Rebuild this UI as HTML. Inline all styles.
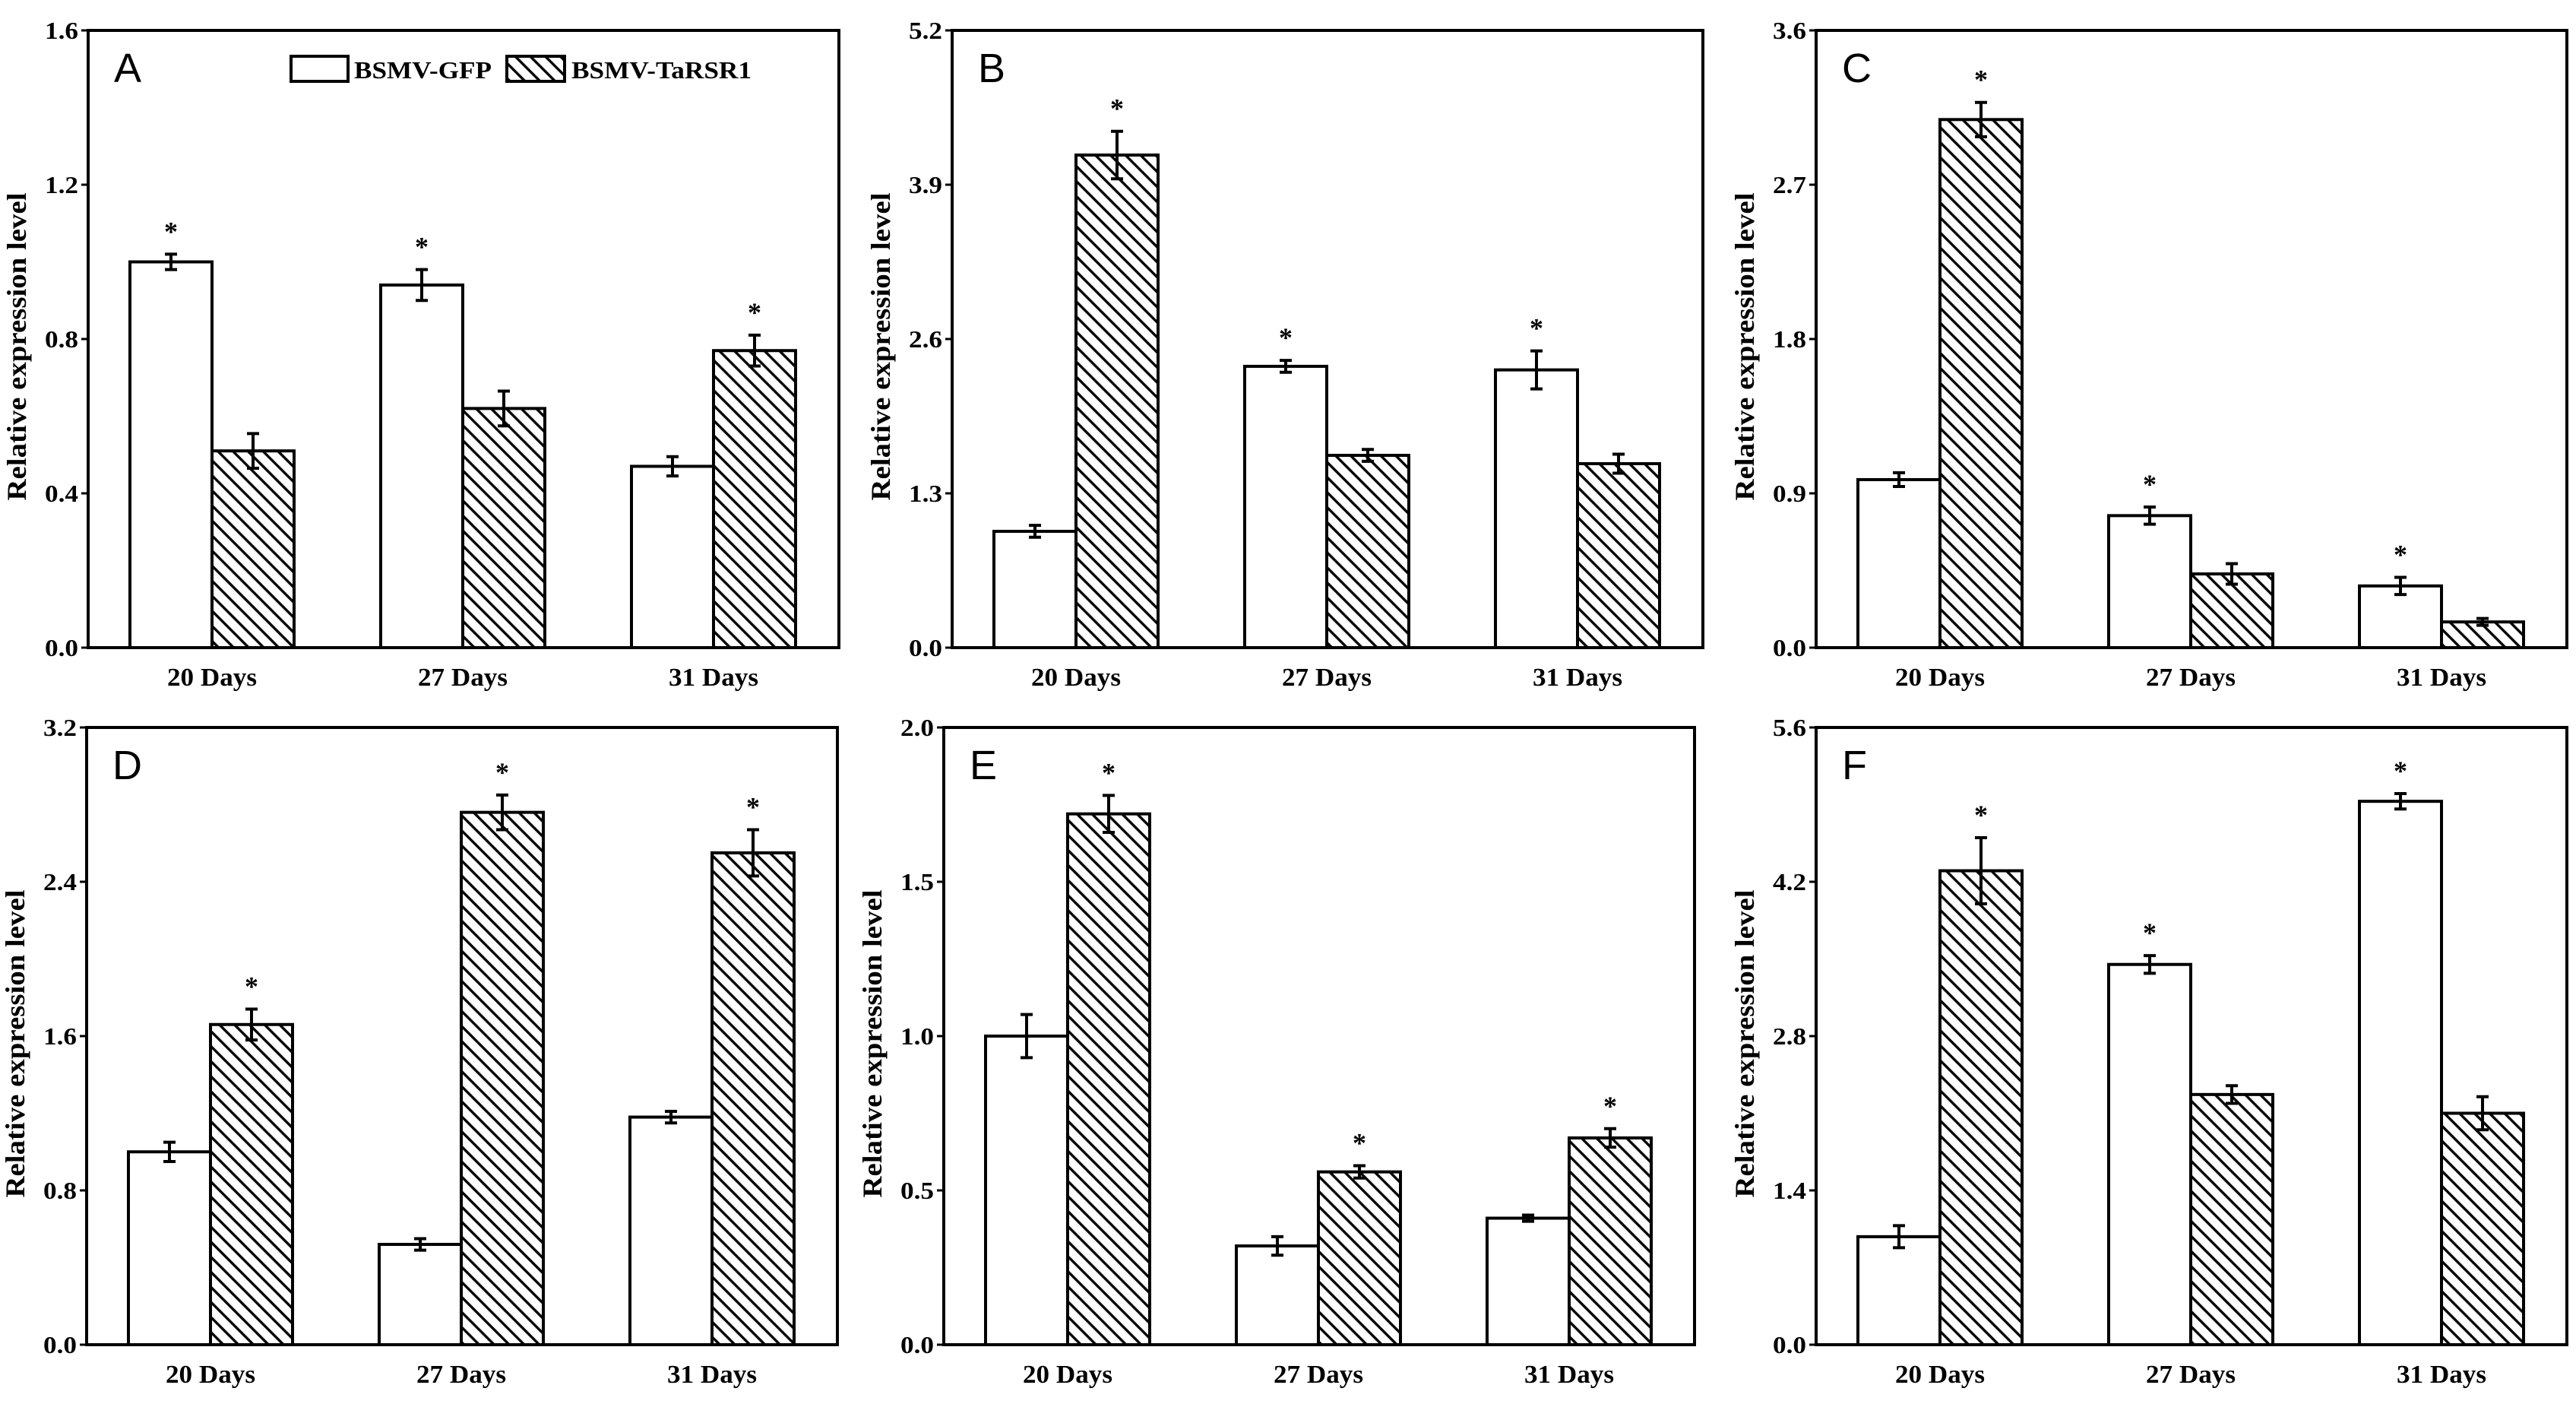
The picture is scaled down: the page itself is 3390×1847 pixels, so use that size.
<!DOCTYPE html>
<html><head><meta charset="utf-8">
<style>
html,body{margin:0;padding:0;background:#fff;}
svg{display:block;}
.tick{font-family:"Liberation Serif",serif;font-weight:bold;font-size:32px;}
.cat{font-family:"Liberation Serif",serif;font-weight:bold;font-size:34px;}
.ytitle{font-family:"Liberation Serif",serif;font-weight:bold;font-size:36px;}
.letter{font-family:"Liberation Sans",sans-serif;font-size:54px;}
.star{font-family:"Liberation Serif",serif;font-weight:bold;font-size:36px;}
.leg{font-family:"Liberation Serif",serif;font-weight:bold;font-size:32px;}
</style></head>
<body>
<svg id="chart" width="3390" height="1847" viewBox="0 0 3390 1847" xmlns="http://www.w3.org/2000/svg">
<defs>
<pattern id="hatch" patternUnits="userSpaceOnUse" width="14" height="14" patternTransform="rotate(-45)">
<rect width="14" height="14" fill="#fff"/>
<line x1="7" y1="-2" x2="7" y2="16" stroke="#000" stroke-width="3.4"/>
</pattern>
</defs>
</svg>
<script>
const categories = ["20 Days","27 Days","31 Days"];
const panelLabels = ["A","B","C","D","E","F"];
const yMaxes = [1.6,5.2,3.6,3.2,2.0,5.6];
const tickStepCounts = [4,4,4,4,4,4];
const tickLabelsA = ["0.0","0.4","0.8","1.2","1.6"];
const tickLabelsB = ["0.0","1.3","2.6","3.9","5.2"];
const tickLabelsC = ["0.0","0.9","1.8","2.7","3.6"];
const tickLabelsD = ["0.0","0.8","1.6","2.4","3.2"];
const tickLabelsE = ["0.0","0.5","1.0","1.5","2.0"];
const tickLabelsF = ["0.0","1.4","2.8","4.2","5.6"];
const gfpA = [1.0,0.94,0.47], gfpErrA = [0.02,0.04,0.025];
const taA  = [0.51,0.62,0.77], taErrA = [0.045,0.045,0.04];
const gfpB = [0.98,2.37,2.34], gfpErrB = [0.05,0.05,0.16];
const taB  = [4.15,1.62,1.55], taErrB = [0.2,0.05,0.08];
const gfpC = [0.98,0.77,0.36], gfpErrC = [0.04,0.05,0.05];
const taC  = [3.08,0.43,0.15], taErrC = [0.1,0.06,0.02];
const gfpD = [1.0,0.52,1.18], gfpErrD = [0.05,0.03,0.03];
const taD  = [1.66,2.76,2.55], taErrD = [0.08,0.09,0.12];
const gfpE = [1.0,0.32,0.41], gfpErrE = [0.07,0.03,0.01];
const taE  = [1.72,0.56,0.67], taErrE = [0.06,0.02,0.03];
const gfpF = [0.98,3.45,4.93], gfpErrF = [0.1,0.08,0.07];
const taF  = [4.3,2.27,2.1], taErrF = [0.3,0.08,0.15];
// star flags: 1 = GFP bar starred, 2 = TaRSR1 bar starred
const starsA = [1,1,2], starsB = [2,1,1], starsC = [2,1,1];
const starsD = [2,2,2], starsE = [2,2,2], starsF = [2,1,1];

const panels = [
 {gfp:gfpA,ge:gfpErrA,ta:taA,te:taErrA,ticks:tickLabelsA,stars:starsA},
 {gfp:gfpB,ge:gfpErrB,ta:taB,te:taErrB,ticks:tickLabelsB,stars:starsB},
 {gfp:gfpC,ge:gfpErrC,ta:taC,te:taErrC,ticks:tickLabelsC,stars:starsC},
 {gfp:gfpD,ge:gfpErrD,ta:taD,te:taErrD,ticks:tickLabelsD,stars:starsD},
 {gfp:gfpE,ge:gfpErrE,ta:taE,te:taErrE,ticks:tickLabelsE,stars:starsE},
 {gfp:gfpF,ge:gfpErrF,ta:taF,te:taErrF,ticks:tickLabelsF,stars:starsF}
];
const frames = [[116,40],[1253,40],[2390,40],[114,957],[1242,957],[2390,957]];
const FW = 988, FH = 812, BW = 108;
const NS = "http://www.w3.org/2000/svg";
const svg = document.getElementById('chart');
function mk(tag, attrs, parent){
  const e = document.createElementNS(NS, tag);
  for (const k in attrs) e.setAttribute(k, attrs[k]);
  (parent||svg).appendChild(e); return e;
}
panels.forEach((p, i) => {
  const [fx, fy] = frames[i];
  const g = mk('g', {});
  
  
  const ymax = yMaxes[i];
  const yS = v => fy + FH - v / ymax * FH;
  const groupX = c => fx + 55 + c * 330;
  categories.forEach((cat, c) => {
    const x0 = groupX(c);
    [[p.gfp, p.ge, '#fff', 'gfp'], [p.ta, p.te, 'url(#hatch)', 'tarsr1']].forEach((s, k) => {
      const v = s[0][c], e = s[1][c];
      const bx = x0 + k * BW;
      const r = mk('rect', {x: bx, y: yS(v), width: BW, height: yS(0) - yS(v), fill: s[2], stroke: '#000', 'stroke-width': 4}, g);
      
      
      const cx = bx + BW / 2;
      const eb = mk('path', {d: `M${cx},${yS(v+e)}V${yS(v-e)}M${cx-8},${yS(v+e)}H${cx+8}M${cx-8},${yS(v-e)}H${cx+8}`, stroke: '#000', 'stroke-width': 4, fill: 'none'}, g);
      
      
      if (p.stars[c] === k + 1) {
        const st = mk('text', {x: cx, y: yS(v + e) - 18, 'text-anchor': 'middle', class: 'star'}, g);
        st.textContent = '*';
        
        
      }
    });
    const t = mk('text', {x: x0 + BW, y: fy + FH + 50, 'text-anchor': 'middle', class: 'cat', textLength: 118, lengthAdjust: 'spacingAndGlyphs'}, g);
    t.textContent = cat;
    
    
  });
  const fr = mk('rect', {x: fx, y: fy, width: FW, height: FH, fill: 'none', stroke: '#000', 'stroke-width': 4}, g);
  
  
  p.ticks.forEach((lab, j) => {
    const v = ymax * j / tickStepCounts[i];
    const y = yS(v);
    mk('line', {x1: fx - 9, x2: fx, y1: y, y2: y, stroke: '#000', 'stroke-width': 3}, g);
    const t = mk('text', {x: fx - 13, y: y + 11, 'text-anchor': 'end', class: 'tick', textLength: 44, lengthAdjust: 'spacingAndGlyphs'}, g);
    t.textContent = lab;
    
    
  });
  const yt = mk('text', {x: 0, y: 0, 'text-anchor': 'middle', class: 'ytitle', textLength: 405, lengthAdjust: 'spacingAndGlyphs', transform: `translate(${fx - 82},${fy + FH / 2 + 10}) rotate(-90)`}, g);
  yt.textContent = 'Relative expression level';
  
  
  const lt = mk('text', {x: fx + 34, y: fy + 68, class: 'letter'}, g);
  lt.textContent = panelLabels[i];
  
  
});
const lg = mk('g', {});


const l1 = mk('rect', {x: 383, y: 74, width: 75, height: 33, fill: '#fff', stroke: '#000', 'stroke-width': 4}, lg);


const t1 = mk('text', {x: 466, y: 103, class: 'leg', textLength: 181, lengthAdjust: 'spacingAndGlyphs'}, lg);
t1.textContent = 'BSMV-GFP';


const l2 = mk('rect', {x: 667, y: 74, width: 76, height: 33, fill: 'url(#hatch)', stroke: '#000', 'stroke-width': 4}, lg);


const t2 = mk('text', {x: 752, y: 103, class: 'leg', textLength: 237, lengthAdjust: 'spacingAndGlyphs'}, lg);
t2.textContent = 'BSMV-TaRSR1';


</script>
</body></html>
